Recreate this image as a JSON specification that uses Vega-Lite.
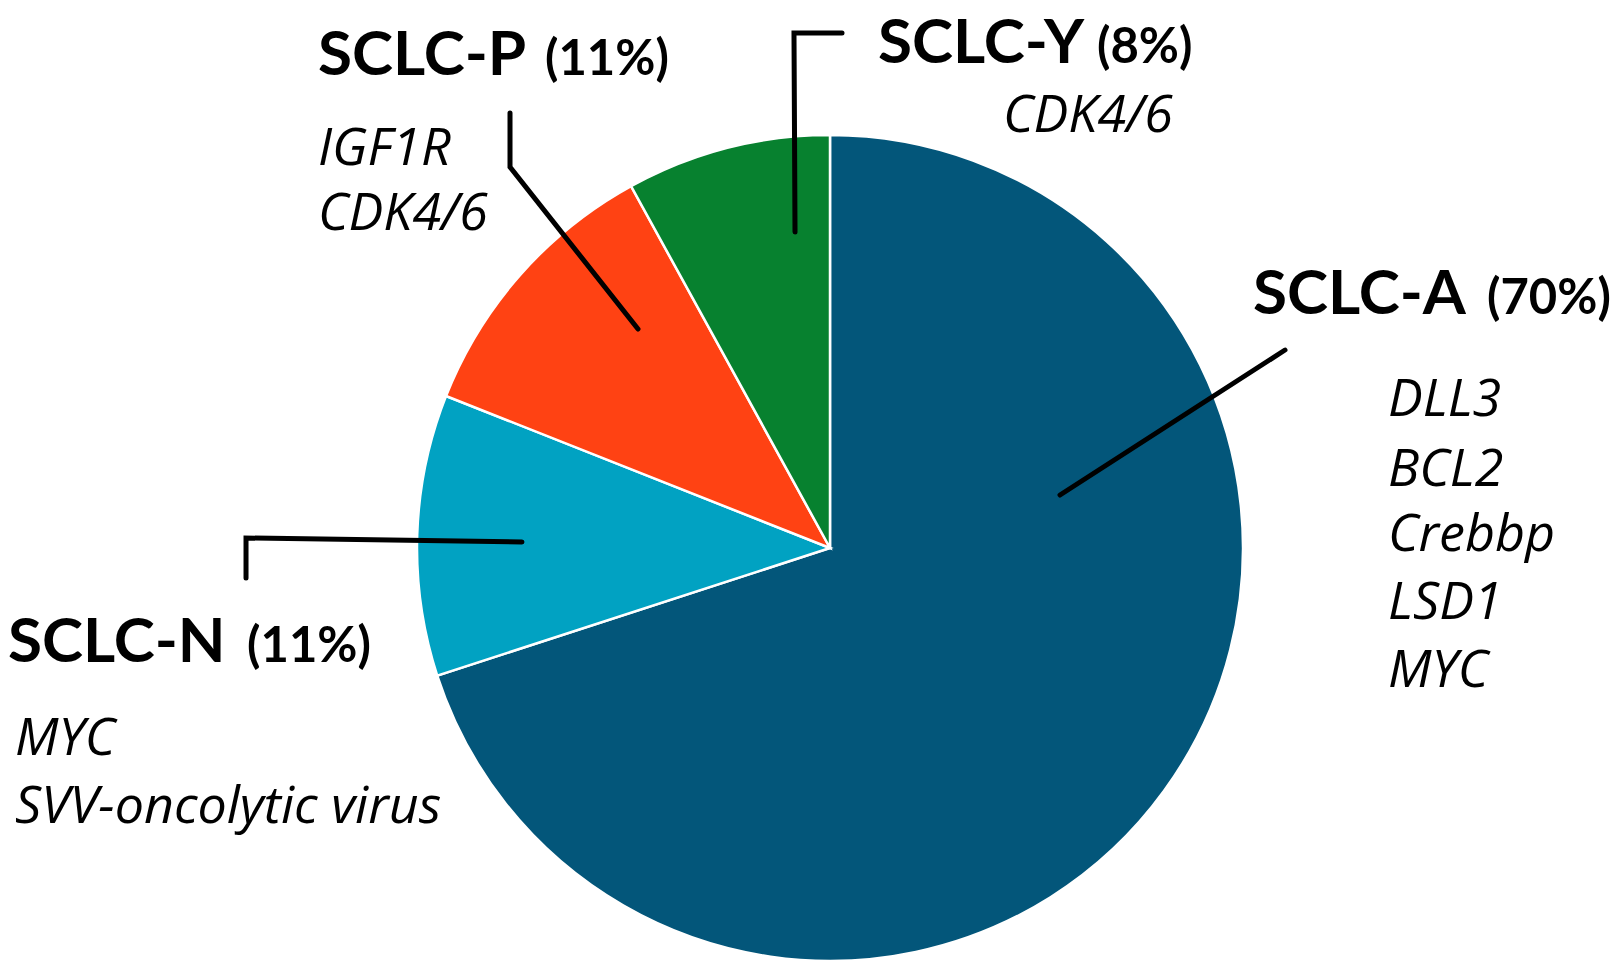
{
  "$schema": "https://vega.github.io/schema/vega-lite/v6.json",
  "width": 1622,
  "height": 970,
  "autosize": {"type": "fit", "contains": "padding"},
  "padding": 0,
  "background": "white",
  "config": {"view": {"stroke": null}},
  "datasets": {
    "subtypes": [
      {"subtype": "SCLC-A", "share": 70},
      {"subtype": "SCLC-N", "share": 11},
      {"subtype": "SCLC-P", "share": 11},
      {"subtype": "SCLC-Y", "share": 8}
    ],
    "leaders": [
      {"subtype": "SCLC-A", "step": 1, "x": 1.1017, "y": 0.4794},
      {"subtype": "SCLC-A", "step": 2, "x": 0.5569, "y": 0.1283},
      {"subtype": "SCLC-P", "step": 1, "x": -0.7748, "y": 1.0533},
      {"subtype": "SCLC-P", "step": 2, "x": -0.7748, "y": 0.9225},
      {"subtype": "SCLC-P", "step": 3, "x": -0.4649, "y": 0.5303},
      {"subtype": "SCLC-Y", "step": 1, "x": 0.0291, "y": 1.2470},
      {"subtype": "SCLC-Y", "step": 2, "x": -0.0872, "y": 1.2470},
      {"subtype": "SCLC-Y", "step": 3, "x": -0.0847, "y": 0.7651},
      {"subtype": "SCLC-N", "step": 1, "x": -1.4140, "y": -0.0726},
      {"subtype": "SCLC-N", "step": 2, "x": -1.4140, "y": 0.0242},
      {"subtype": "SCLC-N", "step": 3, "x": -0.7458, "y": 0.0145}
    ],
    "names": [
      {"label": "SCLC-A", "x": 1.0242, "y": 0.5666},
      {"label": "SCLC-P", "x": -1.2397, "y": 1.1453},
      {"label": "SCLC-Y", "x": 0.1162, "y": 1.1743},
      {"label": "SCLC-N", "x": -1.9903, "y": -0.2760}
    ],
    "pcts": [
      {"label": "(70%)", "x": 1.5908, "y": 0.5666},
      {"label": "(11%)", "x": -0.6901, "y": 1.1453},
      {"label": "(8%)", "x": 0.6465, "y": 1.1743},
      {"label": "(11%)", "x": -1.4116, "y": -0.2760}
    ],
    "targets": [
      {"label": "DLL3", "x": 1.3511, "y": 0.3196},
      {"label": "BCL2", "x": 1.3511, "y": 0.1501},
      {"label": "Crebbp", "x": 1.3511, "y": -0.0073},
      {"label": "LSD1", "x": 1.3511, "y": -0.1719},
      {"label": "MYC", "x": 1.3511, "y": -0.3366},
      {"label": "IGF1R", "x": -1.2397, "y": 0.9274},
      {"label": "CDK4/6", "x": -1.2397, "y": 0.7700},
      {"label": "CDK4/6", "x": 0.4189, "y": 1.0073},
      {"label": "MYC", "x": -1.9734, "y": -0.5012},
      {"label": "SVV-oncolytic virus", "x": -1.9734, "y": -0.6659}
    ]
  },
  "layer": [
    {
      "data": {"name": "subtypes"},
      "mark": {"type": "arc", "radius": 413, "stroke": "white", "strokeWidth": 2.5},
      "encoding": {
        "theta": {"field": "share", "type": "quantitative", "stack": true},
        "color": {
          "field": "subtype",
          "type": "nominal",
          "scale": {
            "domain": ["SCLC-A", "SCLC-N", "SCLC-P", "SCLC-Y"],
            "range": ["#03567A", "#01A2C2", "#FF4213", "#07812F"]
          },
          "legend": null
        },
        "order": {"field": "subtype", "sort": "ascending"},
        "x": {"datum": 0, "type": "quantitative", "scale": {"domain": [-2.00969, 1.91768], "nice": false, "zero": false}, "axis": null},
        "y": {"datum": 0, "type": "quantitative", "scale": {"domain": [-1.02179, 1.32688], "nice": false, "zero": false}, "axis": null}
      }
    },
    {
      "data": {"name": "leaders"},
      "mark": {"type": "line", "color": "black", "strokeWidth": 5, "strokeCap": "round", "strokeJoin": "miter"},
      "encoding": {
        "x": {"field": "x", "type": "quantitative", "axis": null},
        "y": {"field": "y", "type": "quantitative", "axis": null},
        "detail": {"field": "subtype"},
        "order": {"field": "step", "type": "quantitative"}
      }
    },
    {
      "data": {"name": "names"},
      "mark": {"type": "text", "align": "left", "baseline": "alphabetic", "font": "Lato", "fontWeight": "bold", "fontSize": 62, "color": "black"},
      "encoding": {
        "x": {"field": "x", "type": "quantitative", "axis": null},
        "y": {"field": "y", "type": "quantitative", "axis": null},
        "text": {"field": "label"}
      }
    },
    {
      "data": {"name": "pcts"},
      "mark": {"type": "text", "align": "left", "baseline": "alphabetic", "font": "Lato", "fontWeight": "bold", "fontSize": 49, "color": "black"},
      "encoding": {
        "x": {"field": "x", "type": "quantitative", "axis": null},
        "y": {"field": "y", "type": "quantitative", "axis": null},
        "text": {"field": "label"}
      }
    },
    {
      "data": {"name": "targets"},
      "mark": {"type": "text", "align": "left", "baseline": "alphabetic", "font": "Open Sans", "fontStyle": "italic", "fontSize": 52, "color": "black"},
      "encoding": {
        "x": {"field": "x", "type": "quantitative", "axis": null},
        "y": {"field": "y", "type": "quantitative", "axis": null},
        "text": {"field": "label"}
      }
    }
  ]
}
